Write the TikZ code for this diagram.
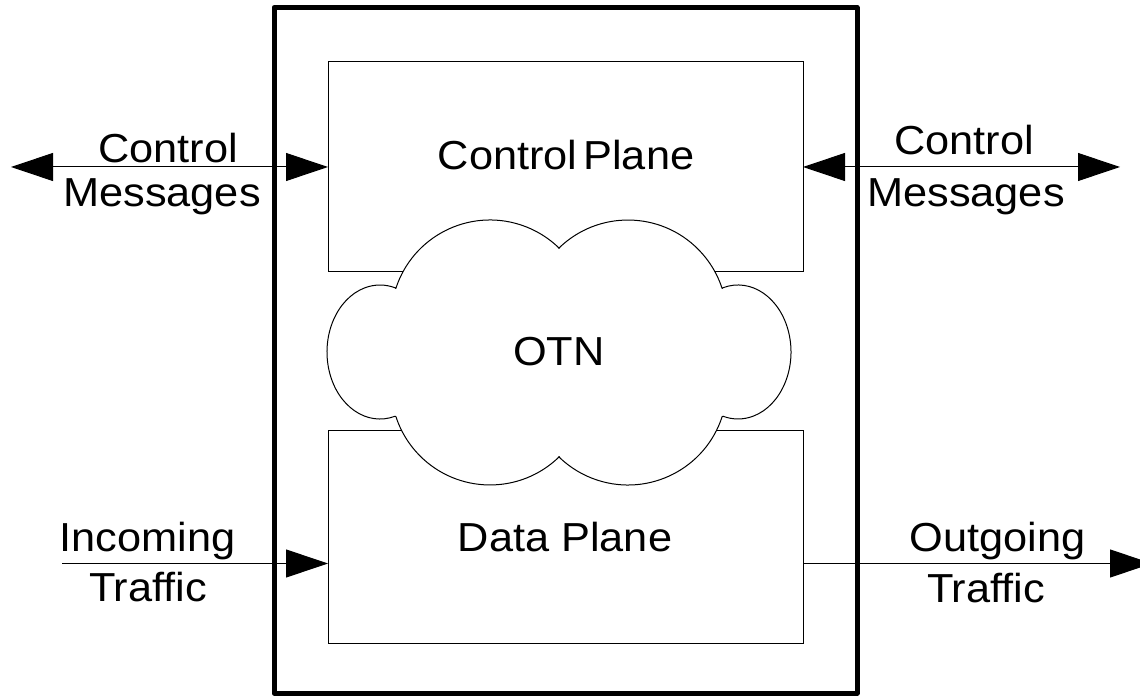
\documentclass[tikz,border=0pt]{standalone}
\usepackage{fontspec}
\setmainfont{Liberation Sans}[FakeStretch=1.07]
\usetikzlibrary{arrows.meta}
\begin{document}
\begin{tikzpicture}[x=1pt,y=1pt,
  lbl/.style={font=\fontsize{40.5}{46}\selectfont, inner sep=0pt, anchor=base},
  plane/.style={draw, line width=1pt, inner sep=0pt, outer sep=0pt},
  frame/.style={draw, line width=5pt, line join=round, inner sep=0pt, outer sep=0pt},
  conn/.style={line width=1pt},
  oneway/.style={conn, -{Triangle[length=42pt,width=28pt]}},
  twoway/.style={conn, {Triangle[length=42pt,width=28pt]}-{Triangle[length=42pt,width=28pt]}},
  cloudline/.style={line width=1pt, fill=white, line join=round}
]
\clip (0,0) rectangle (1140,696);

% network element frame
\node[frame, minimum width=583pt, minimum height=685.5pt] (ne) at (565.5,345.75) {};

% control and data planes
\node[plane, minimum width=475pt, minimum height=210pt] (cp) at (565.5,529) {};
\node[plane, minimum width=475pt, minimum height=212pt] (dp) at (565.5,159) {};

% OTN cloud between the planes
\draw[cloudline]
  (395.85,407.6) arc[start angle=162, end angle=45.6, radius=99]
  -- (558.7,447.7) arc[start angle=134.4, end angle=18, radius=99]
  -- (722.95,408.25) arc[start angle=106.5, end angle=-106.5, x radius=53, y radius=67]
  -- (722.15,279.4) arc[start angle=-18, end angle=-134.4, radius=99]
  -- (559.3,239.3) arc[start angle=-45.6, end angle=-162, radius=99]
  -- (395.05,279.75) arc[start angle=-73.5, end angle=-286.5, x radius=53, y radius=67]
  -- cycle;

% labels inside
\node[lbl] (cpl) at (566,526) {\spaceskip=6pt\relax Control Plane};
\node[lbl] (otn) at (559,330.5) {OTN};
\node[lbl] (dpl) at (565,144) {Data Plane};

% control messages, both sides
\coordinate (cmL) at (11,529);
\coordinate (cmR) at (1120,529);
\draw[twoway] (cmL) -- (cp.west);
\draw[twoway] (cp.east) -- (cmR);
\node[lbl] (lcm1) at (168,533) {Control};
\node[lbl] (lcm2) at (162,489) {Messages};
\node[lbl] (rcm1) at (964,541) {Control};
\node[lbl] (rcm2) at (966,489) {Messages};

% traffic in and out of the data plane
\coordinate (inL) at (62,132.5);
\coordinate (outR) at (1152,132.5);
\draw[oneway] (inL) -- (inL -| dp.west);
\draw[oneway] (dp.east |- outR) -- (outR);
\node[lbl] (in1) at (147.5,144) {Incoming};
\node[lbl] (in2) at (148,94) {Traffic};
\node[lbl] (out1) at (997.5,144) {Outgoing};
\node[lbl] (out2) at (986,93) {Traffic};
\end{tikzpicture}
\end{document}
